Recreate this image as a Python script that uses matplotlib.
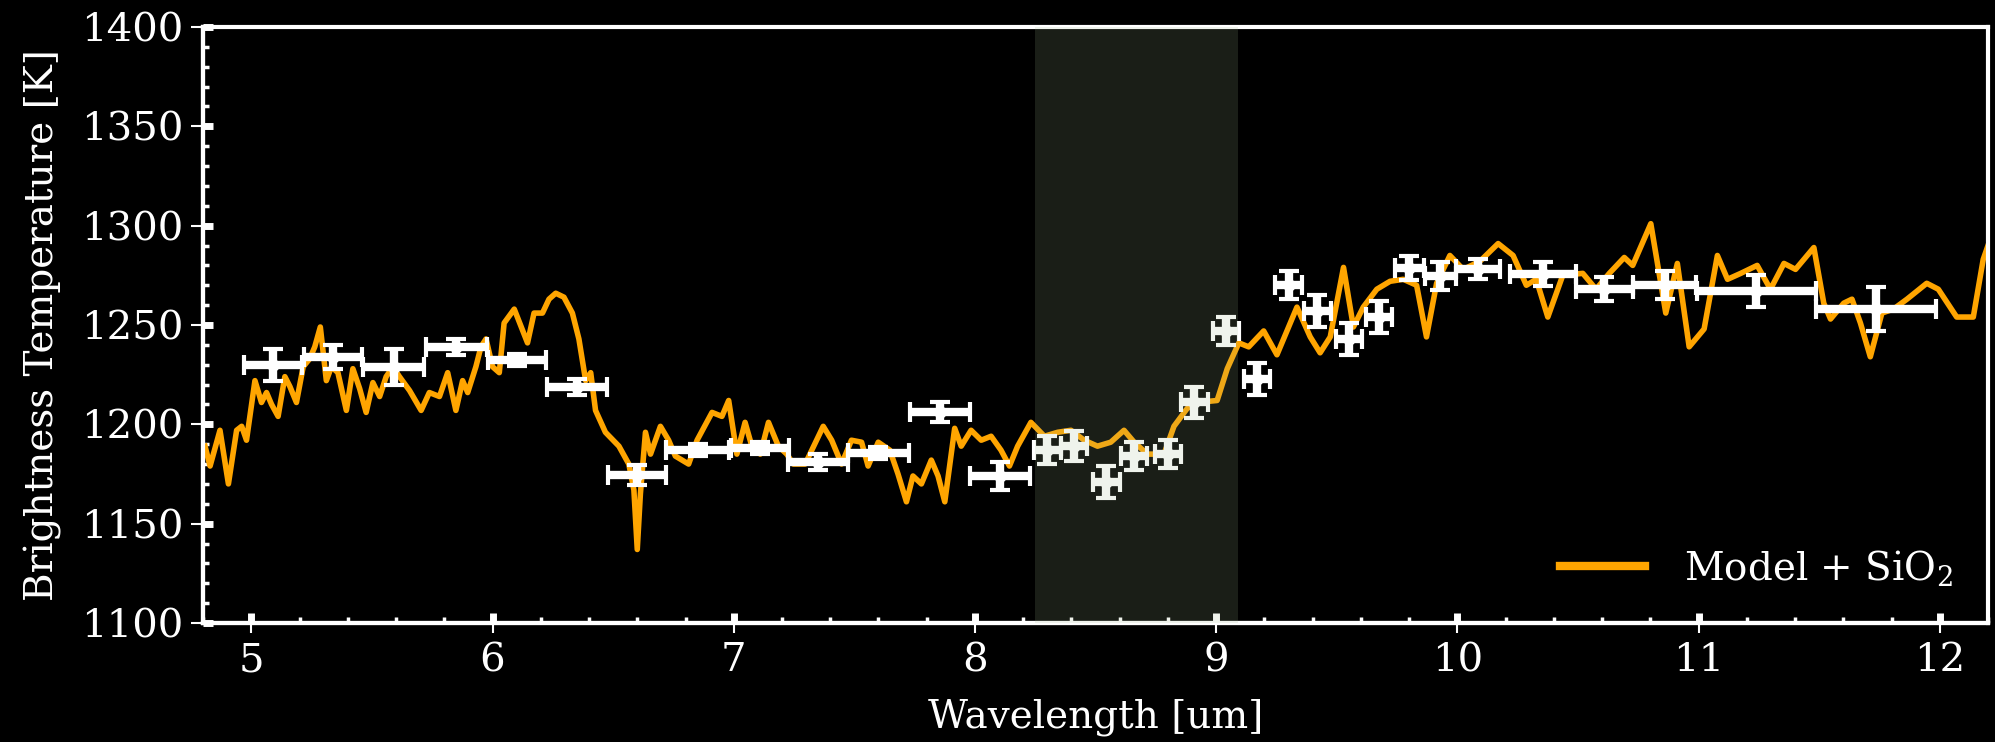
import matplotlib
matplotlib.use("Agg")
import matplotlib.pyplot as plt
from matplotlib.ticker import MultipleLocator

# model spectrum
model_wl = [
    4.808, 4.829, 4.870, 4.905, 4.939, 4.960, 4.980, 5.015, 5.042, 5.063,
    5.084, 5.111, 5.139, 5.160, 5.187, 5.215, 5.242, 5.263, 5.286, 5.311,
    5.332, 5.359, 5.394, 5.421, 5.449, 5.476, 5.504, 5.532, 5.559, 5.587,
    5.614, 5.656, 5.704, 5.738, 5.780, 5.814, 5.848, 5.876, 5.897, 5.931,
    5.952, 5.973, 6.000, 6.028, 6.048, 6.090, 6.145, 6.172, 6.207, 6.234,
    6.262, 6.296, 6.331, 6.358, 6.386, 6.407, 6.427, 6.468, 6.524, 6.565,
    6.586, 6.600, 6.613, 6.634, 6.655, 6.696, 6.730, 6.758, 6.813, 6.848,
    6.910, 6.951, 6.979, 7.013, 7.047, 7.075, 7.110, 7.144, 7.185, 7.220,
    7.247, 7.296, 7.371, 7.406, 7.447, 7.488, 7.530, 7.557, 7.599, 7.647,
    7.681, 7.716, 7.743, 7.778, 7.819, 7.847, 7.875, 7.916, 7.943, 7.984,
    8.026, 8.067, 8.108, 8.143, 8.177, 8.232, 8.288, 8.343, 8.398, 8.453,
    8.508, 8.563, 8.618, 8.660, 8.715, 8.784, 8.825, 8.880, 8.921, 9.004,
    9.046, 9.094, 9.135, 9.197, 9.252, 9.335, 9.390, 9.431, 9.473, 9.528,
    9.569, 9.610, 9.666, 9.721, 9.776, 9.831, 9.872, 9.914, 9.969, 10.024,
    10.093, 10.169, 10.231, 10.286, 10.327, 10.375, 10.437, 10.520, 10.575, 10.630,
    10.692, 10.727, 10.802, 10.864, 10.912, 10.961, 11.023, 11.078, 11.120, 11.175,
    11.243, 11.298, 11.354, 11.402, 11.478, 11.519, 11.547, 11.602, 11.636, 11.671,
    11.712, 11.760, 11.808, 11.864, 11.946, 11.994, 12.070, 12.139, 12.180, 12.200,
]
model_temp = [
    1189, 1179, 1197, 1170, 1197, 1199, 1192, 1222, 1211, 1216,
    1210, 1204, 1224, 1219, 1211, 1229, 1233, 1239, 1249, 1222,
    1229, 1226, 1207, 1228, 1218, 1206, 1221, 1214, 1224, 1229,
    1224, 1217, 1207, 1216, 1214, 1226, 1207, 1222, 1216, 1229,
    1239, 1243, 1229, 1226, 1251, 1258, 1241, 1256, 1256, 1263,
    1266, 1264, 1256, 1243, 1222, 1226, 1207, 1196, 1189, 1180,
    1167, 1137, 1165, 1196, 1185, 1199, 1192, 1184, 1180, 1192,
    1206, 1204, 1212, 1185, 1201, 1189, 1185, 1201, 1189, 1185,
    1180, 1180, 1199, 1192, 1180, 1192, 1191, 1179, 1191, 1187,
    1175, 1161, 1174, 1170, 1182, 1174, 1161, 1198, 1189, 1197,
    1192, 1194, 1187, 1179, 1189, 1201, 1194, 1196, 1197, 1192,
    1189, 1191, 1197, 1191, 1185, 1185, 1199, 1208, 1211, 1212,
    1228, 1241, 1239, 1247, 1235, 1259, 1244, 1236, 1244, 1279,
    1249, 1259, 1268, 1272, 1273, 1270, 1244, 1271, 1285, 1278,
    1282, 1291, 1285, 1270, 1273, 1254, 1275, 1276, 1268, 1276,
    1284, 1280, 1301, 1256, 1281, 1239, 1248, 1285, 1273, 1276,
    1280, 1268, 1281, 1278, 1289, 1261, 1253, 1261, 1263, 1251,
    1234, 1256, 1258, 1263, 1271, 1268, 1254, 1254, 1283, 1290,
]

# observed brightness temperatures
obs_wl = [
    5.09, 5.34, 5.59, 5.85, 6.10, 6.35, 6.60, 6.85, 7.11, 7.35,
    7.60, 7.855, 8.105, 8.30, 8.41, 8.545, 8.66, 8.80, 8.91, 9.04,
    9.17, 9.30, 9.42, 9.55, 9.675, 9.80, 9.93, 10.085, 10.355, 10.61,
    10.86, 11.24, 11.735,
]
obs_temp = [
    1230, 1234, 1229, 1239, 1232.5, 1219, 1174.5, 1187, 1188, 1181,
    1185.5, 1206, 1174, 1187, 1189, 1171, 1184, 1185, 1211, 1247,
    1223, 1270, 1257, 1243, 1254, 1278.5, 1274.5, 1278, 1275.5, 1268,
    1270, 1267, 1258,
]
obs_xerr = [
    0.12, 0.12, 0.125, 0.125, 0.12, 0.125, 0.12, 0.13, 0.12, 0.125,
    0.125, 0.125, 0.125, 0.055, 0.055, 0.055, 0.055, 0.055, 0.055, 0.055,
    0.055, 0.055, 0.055, 0.055, 0.055, 0.06, 0.065, 0.09, 0.135, 0.12,
    0.13, 0.245, 0.25,
]
obs_yerr = [
    8, 6, 9, 4, 3, 4, 5, 3, 3, 4,
    3, 5, 7, 7, 7.5, 8, 7, 7, 8, 7,
    8, 7, 8, 8, 8, 6, 7, 5, 6, 6,
    7, 8, 11,
]

band = (8.25, 9.09)

plt.rcParams["font.family"] = ["DejaVu Serif"]
plt.rcParams["font.size"] = 28
plt.rcParams["mathtext.fontset"] = "dejavuserif"

fig = plt.figure(figsize=(19.95, 7.42), dpi=100, facecolor="black")
ax = fig.add_axes([0.1018, 0.1604, 0.8947, 0.8032], facecolor="black")

ax.plot(model_wl, model_temp, color="#ffa500", lw=4, zorder=2,
        label="Model + SiO$_2$")
ax.errorbar(obs_wl, obs_temp, xerr=obs_xerr, yerr=obs_yerr, fmt="o",
            color="white", ms=8, elinewidth=6, capsize=7, capthick=3,
            zorder=3)
ax.axvspan(*band, color="#a3ba91", alpha=0.165, lw=0, zorder=4)

ax.set_xlim(4.8, 12.2)
ax.set_ylim(1100, 1400)
ax.set_xticks(range(5, 13))
ax.set_yticks(range(1100, 1401, 50))

for spine in ax.spines.values():
    spine.set_color("white")
    spine.set_linewidth(3)

ax.tick_params(which="major", direction="out", color="white",
               labelcolor="white", width=1.5, labelsize=29)
ax.tick_params(axis="x", which="major", length=7, pad=7)
ax.tick_params(axis="y", which="major", length=9, pad=5)
ax.tick_params(which="minor", length=0)

# inner tick marks
sx = ax.secondary_xaxis("bottom")
sx.set_xticks(range(5, 13))
sx.xaxis.set_minor_locator(MultipleLocator(0.2))
sx.tick_params(which="major", direction="in", length=7, width=5,
               color="white", labelbottom=False)
sx.tick_params(which="minor", direction="in", length=4, width=2.5,
               color="white")
sx.spines["bottom"].set_linewidth(3)
sx.spines["bottom"].set_color("white")

sy = ax.secondary_yaxis("left")
sy.set_yticks(range(1100, 1401, 50))
sy.yaxis.set_minor_locator(MultipleLocator(10))
sy.tick_params(which="major", direction="in", length=7, width=5,
               color="white", labelleft=False)
sy.tick_params(which="minor", direction="in", length=4, width=2.5,
               color="white")
sy.spines["left"].set_linewidth(3)
sy.spines["left"].set_color("white")

ax.set_xlabel("Wavelength [um]", color="white", labelpad=14)
ax.set_ylabel("Brightness Temperature [K]", color="white", labelpad=14)

leg = ax.legend(loc="lower right", frameon=False, labelcolor="white",
                handlelength=2.2, handletextpad=1.0, borderaxespad=0.5)
for line in leg.get_lines():
    line.set_linewidth(6)

fig.savefig("out.png", dpi=100, facecolor="black")
